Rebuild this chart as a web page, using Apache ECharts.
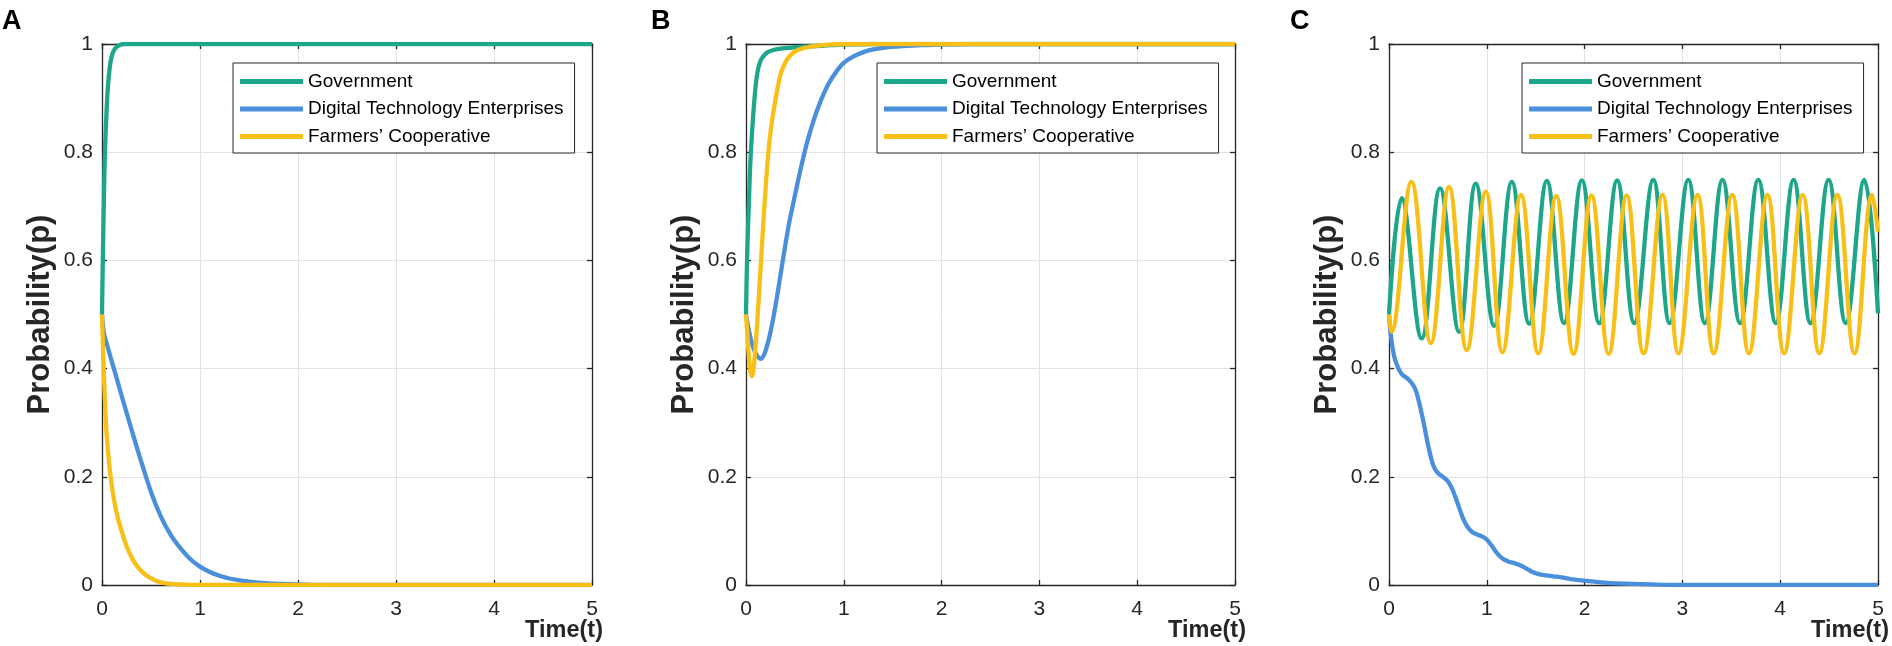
<!DOCTYPE html>
<html>
<head>
<meta charset="utf-8">
<script src="https://cdn.jsdelivr.net/npm/echarts@6/dist/echarts.min.js"></script>
<style>
  html, body { margin: 0; padding: 0; background: #fff; }
  #chart { width: 1892px; height: 646px; }
</style>
</head>
<body>
<div id="chart"></div>
<script>
// series names
const names = ['Government', 'Digital Technology Enterprises', 'Farmers\u2019 Cooperative'];
const panelLetters = ['A', 'B', 'C'];
const xTicks = { min: 0, max: 5, interval: 1 };
const yTicks = { min: 0, max: 1, interval: 0.2 };

// panel A  [time, probability]
const govA = [[0,0.5],[0.01,0.62],[0.02,0.72],[0.03,0.8],[0.045,0.87],[0.06,0.92],[0.08,0.958],[0.1,0.978],[0.13,0.991],[0.17,0.997],[0.22,1],[5,1]];
const dteA = [[0,0.5],[0.02,0.465],[0.05,0.445],[0.1,0.413],[0.15,0.382],[0.2,0.35],[0.3,0.288],[0.4,0.228],[0.5,0.172],[0.6,0.127],[0.7,0.093],[0.8,0.068],[0.9,0.048],[1.0,0.034],[1.1,0.024],[1.2,0.017],[1.3,0.012],[1.5,0.006],[1.7,0.003],[2.0,0.001],[2.3,0],[5,0]];
const farA = [[0,0.5],[0.01,0.44],[0.017,0.4],[0.04,0.3],[0.06,0.25],[0.088,0.2],[0.12,0.16],[0.16,0.125],[0.2,0.1],[0.25,0.072],[0.32,0.045],[0.38,0.03],[0.45,0.018],[0.55,0.008],[0.65,0.003],[0.8,0.001],[1.0,0],[5,0]];

// panel B
const govB = [[0,0.5],[0.008,0.58],[0.017,0.64],[0.03,0.71],[0.044,0.78],[0.068,0.854],[0.085,0.895],[0.102,0.928],[0.125,0.955],[0.154,0.971],[0.19,0.98],[0.222,0.985],[0.28,0.989],[0.34,0.991],[0.45,0.993],[0.58,0.995],[0.8,0.997],[1.0,0.999],[1.3,1],[5,1]];
const dteB = [[0,0.5],[0.03,0.47],[0.068,0.442],[0.1,0.428],[0.13,0.42],[0.154,0.418],[0.19,0.428],[0.23,0.452],[0.27,0.485],[0.31,0.525],[0.35,0.57],[0.39,0.615],[0.44,0.668],[0.5,0.72],[0.56,0.77],[0.62,0.815],[0.69,0.858],[0.76,0.893],[0.84,0.925],[0.92,0.948],[1.0,0.965],[1.1,0.977],[1.2,0.985],[1.3,0.99],[1.4,0.993],[1.6,0.996],[1.8,0.998],[2.0,0.999],[2.3,1],[5,1]];
const farB = [[0,0.5],[0.015,0.46],[0.03,0.42],[0.045,0.395],[0.061,0.386],[0.075,0.395],[0.09,0.425],[0.105,0.46],[0.12,0.5],[0.154,0.6],[0.188,0.7],[0.229,0.8],[0.26,0.85],[0.29,0.885],[0.325,0.92],[0.358,0.947],[0.4,0.965],[0.444,0.977],[0.5,0.986],[0.58,0.992],[0.7,0.996],[0.85,0.999],[1.1,1],[5,1]];

// panel C
const govC = [[0,0.5],[0.13,0.715],[0.334,0.456],[0.522,0.733],[0.717,0.468],[0.887,0.742],[1.075,0.479],[1.256,0.745],[1.433,0.483],[1.614,0.747],[1.79,0.484],[1.972,0.748],[2.15,0.484],[2.333,0.748],[2.508,0.484],[2.702,0.749],[2.87,0.484],[3.06,0.749],[3.23,0.484],[3.41,0.749],[3.59,0.484],[3.776,0.749],[3.955,0.484],[4.137,0.749],[4.31,0.484],[4.495,0.749],[4.67,0.484],[4.86,0.749],[5.0,0.502]];
const dteC = [[0,0.5],[0.017,0.465],[0.05,0.425],[0.085,0.405],[0.13,0.39],[0.2,0.38],[0.256,0.367],[0.29,0.35],[0.324,0.325],[0.36,0.295],[0.392,0.265],[0.43,0.235],[0.46,0.218],[0.5,0.207],[0.55,0.2],[0.6,0.192],[0.64,0.18],[0.68,0.162],[0.717,0.143],[0.76,0.122],[0.8,0.108],[0.85,0.098],[0.92,0.092],[0.97,0.088],[1.01,0.082],[1.06,0.07],[1.109,0.058],[1.16,0.049],[1.229,0.043],[1.29,0.04],[1.348,0.036],[1.41,0.03],[1.468,0.024],[1.53,0.02],[1.6,0.018],[1.68,0.016],[1.76,0.014],[1.86,0.011],[2.0,0.008],[2.17,0.005],[2.34,0.003],[2.68,0.001],[3.0,0],[5,0]];
const farC = [[0,0.5],[0.024,0.468],[0.229,0.745],[0.427,0.447],[0.614,0.736],[0.795,0.434],[0.99,0.727],[1.16,0.43],[1.35,0.721],[1.526,0.428],[1.71,0.719],[1.887,0.427],[2.07,0.72],[2.246,0.427],[2.43,0.72],[2.603,0.428],[2.797,0.721],[2.96,0.428],[3.155,0.721],[3.32,0.428],[3.51,0.721],[3.68,0.428],[3.87,0.721],[4.04,0.428],[4.23,0.721],[4.40,0.428],[4.585,0.721],[4.76,0.428],[4.94,0.721],[5.0,0.653]];

const panels = [[govA, dteA, farA], [govB, dteB, farB], [govC, dteC, farC]];

let chart = echarts.init(document.getElementById('chart'));

const colors = ['#1ea68b', '#4a8fdc', '#f8bf17'];
const ink = '#262626';
const font = '"Liberation Sans", Arial, sans-serif';
const gridBoxes = [
    { left: 102, top: 44, width: 490, height: 541 },
    { left: 746, top: 44, width: 489, height: 541 },
    { left: 1389, top: 44, width: 489, height: 541 }
];
const legendPos = [233, 877, 1522];
const letterPos = [2, 651, 1290];

let xAxes = [], yAxes = [], series = [], legends = [], titles = [], texts = [];

gridBoxes.forEach(function (g, i) {
    // bottom axis, with labels and grid
    xAxes.push({
        type: 'value', gridIndex: i, position: 'bottom',
        min: xTicks.min, max: xTicks.max, interval: xTicks.interval,
        axisLine: { show: true, lineStyle: { color: ink, width: 1.3 } },
        axisTick: { show: true, inside: true, length: 5, lineStyle: { color: ink, width: 1.3 } },
        axisLabel: { fontFamily: font, fontSize: 21, color: ink, margin: 14 },
        splitLine: { show: true, lineStyle: { color: '#e2e2e2', width: 1 } }
    });
    // top box edge
    xAxes.push({
        type: 'value', gridIndex: i, position: 'top',
        min: xTicks.min, max: xTicks.max, interval: xTicks.interval,
        axisLine: { show: true, onZero: false, lineStyle: { color: ink, width: 1.3 } },
        axisTick: { show: true, inside: true, length: 5, lineStyle: { color: ink, width: 1.3 } },
        axisLabel: { show: false },
        splitLine: { show: false }
    });
    yAxes.push({
        type: 'value', gridIndex: i, position: 'left',
        min: yTicks.min, max: yTicks.max, interval: yTicks.interval,
        name: 'Probability(p)', nameLocation: 'middle', nameGap: 46, nameRotate: 90,
        nameTextStyle: { fontFamily: font, fontSize: 31, fontWeight: 'bold', color: ink },
        axisLine: { show: true, lineStyle: { color: ink, width: 1.3 } },
        axisTick: { show: true, inside: true, length: 5, lineStyle: { color: ink, width: 1.3 } },
        axisLabel: { fontFamily: font, fontSize: 21, color: ink, margin: 9 },
        splitLine: { show: true, lineStyle: { color: '#e2e2e2', width: 1 } }
    });
    yAxes.push({
        type: 'value', gridIndex: i, position: 'right',
        min: yTicks.min, max: yTicks.max, interval: yTicks.interval,
        axisLine: { show: true, onZero: false, lineStyle: { color: ink, width: 1.3 } },
        axisTick: { show: true, inside: true, length: 5, lineStyle: { color: ink, width: 1.3 } },
        axisLabel: { show: false },
        splitLine: { show: false }
    });

    panels[i].forEach(function (d, k) {
        series.push({
            name: names[k], type: 'line', data: d,
            xAxisIndex: 2 * i, yAxisIndex: 2 * i,
            showSymbol: false, symbol: 'none',
            smooth: i == 2 ? 0.4 : 0.3,
            lineStyle: { color: colors[k], width: 4.3 },
            itemStyle: { color: colors[k] },
            animation: false
        });
    });

    legends.push({
        data: names, orient: 'vertical',
        left: legendPos[i], top: 63,
        icon: 'rect', itemWidth: 63, itemHeight: 5, itemGap: 8.5,
        padding: [9, 11, 7, 7],
        backgroundColor: '#fff', borderColor: ink, borderWidth: 1, borderRadius: 0,
        selectedMode: false,
        textStyle: { fontFamily: font, fontSize: 19, color: '#000', lineHeight: 19 }
    });

    titles.push({
        text: panelLetters[i], left: letterPos[i], top: 8, padding: 0,
        textStyle: { fontFamily: font, fontSize: 27, fontWeight: 'bold', color: '#000' }
    });

    // x axis title sits under the right end of the axis
    texts.push({
        type: 'text', x: g.left + g.width + 11, y: 619,
        style: { text: 'Time(t)', fill: ink, align: 'right', verticalAlign: 'top',
                 font: 'bold 23.5px ' + font }
    });
});

chart.setOption({
    backgroundColor: '#fff',
    animation: false,
    title: titles,
    legend: legends,
    grid: gridBoxes,
    xAxis: xAxes,
    yAxis: yAxes,
    graphic: texts,
    series: series
});
</script>
</body>
</html>
